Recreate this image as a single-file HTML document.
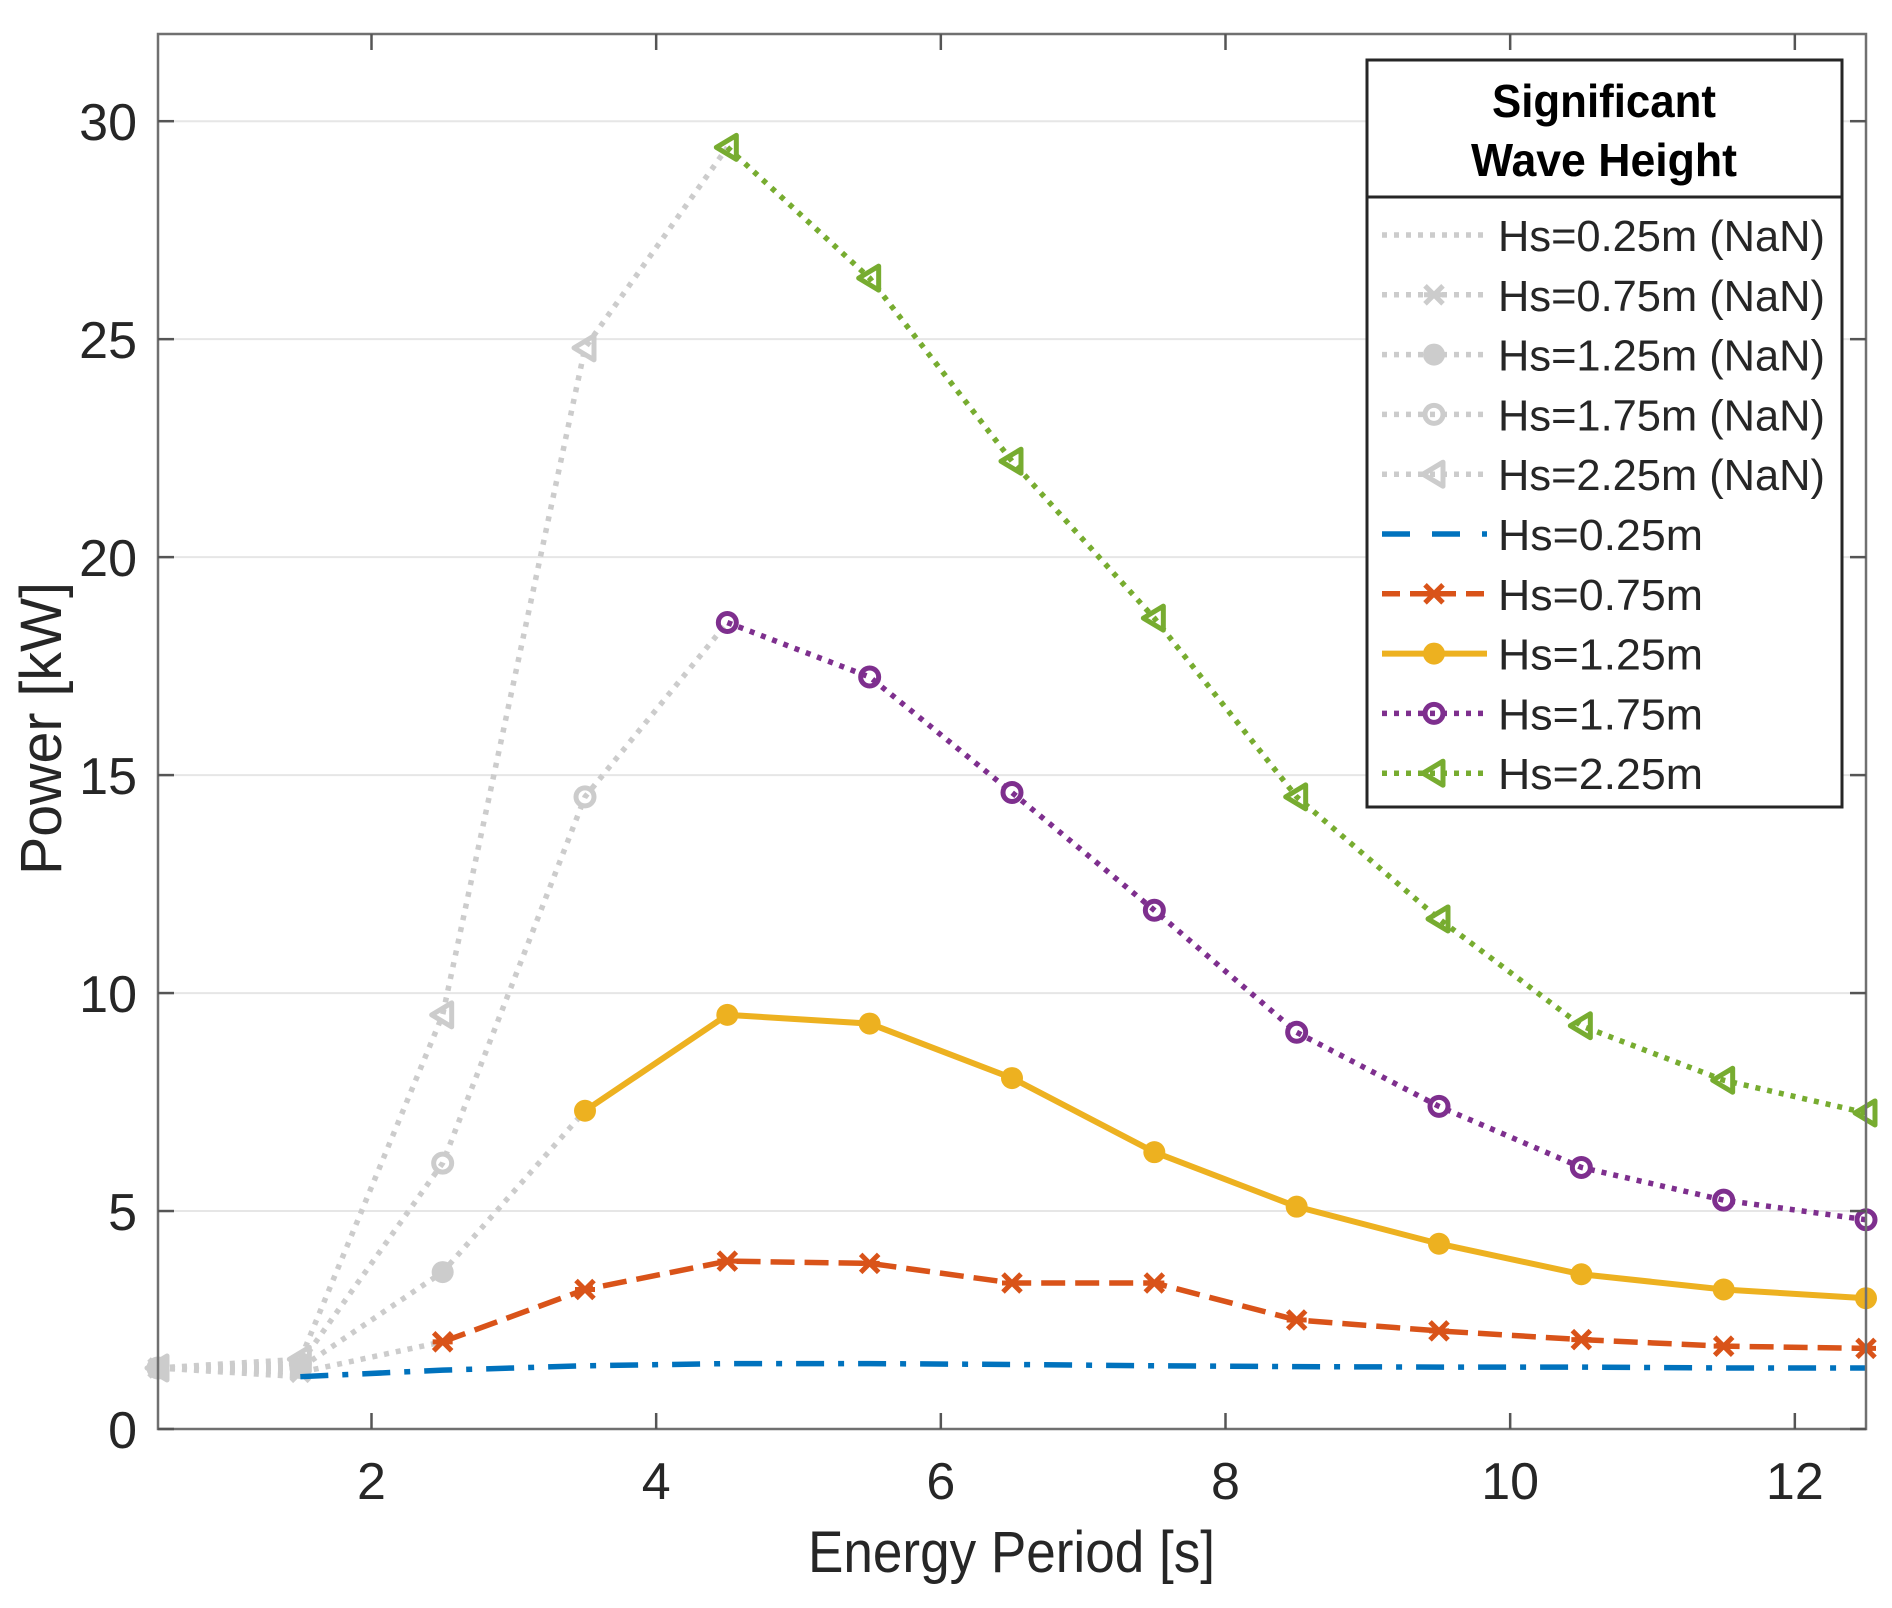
<!DOCTYPE html>
<html><head><meta charset="utf-8">
<style>html,body{margin:0;padding:0;background:#fff}svg{display:block}text{font-family:"Liberation Sans",sans-serif}</style>
</head><body>
<svg id="chart" xmlns="http://www.w3.org/2000/svg" width="1892" height="1608" viewBox="0 0 1892 1608">
<rect x="0" y="0" width="1892" height="1608" fill="#fff"/>
<g id="grid"></g>
<g id="nan"></g>
<g id="series"></g>
<g id="axes"></g>
<g id="legend"></g>
</svg>
<script>
const xCats = [0.5,1.5,2.5,3.5,4.5,5.5,6.5,7.5,8.5,9.5,10.5,11.5,12.5];
const xTicks = [2,4,6,8,10,12];
const yTicks = [0,5,10,15,20,25,30];
const firstValid = [1,2,3,4,4];
const hs025 = [1.4,1.2,1.35,1.45,1.5,1.5,1.48,1.45,1.43,1.42,1.42,1.4,1.4];
const hs075 = [1.4,1.3,2.0,3.2,3.85,3.8,3.35,3.35,2.5,2.25,2.05,1.9,1.85];
const hs125 = [1.4,1.4,3.6,7.3,9.5,9.3,8.05,6.35,5.1,4.25,3.55,3.2,3.0];
const hs175 = [1.4,1.5,6.1,14.5,18.5,17.25,14.6,11.9,9.1,7.4,6.0,5.25,4.8];
const hs225 = [1.4,1.6,9.5,24.8,29.4,26.4,22.2,18.6,14.5,11.7,9.25,8.0,7.25];
const labels = ["Hs=0.25m","Hs=0.75m","Hs=1.25m","Hs=1.75m","Hs=2.25m"];

const NS="http://www.w3.org/2000/svg";
const L=158,R=1866,T=34,B=1429;
const X0=0.5,X1=12.5,Y0=0,Y1=32;
const sx=v=>L+(v-X0)/(X1-X0)*(R-L);
const sy=v=>B-(v-Y0)/(Y1-Y0)*(B-T);
function mk(tag,attrs,parent){const e=document.createElementNS(NS,tag);for(const k in attrs)e.setAttribute(k,attrs[k]);parent.appendChild(e);return e;}
const grid=document.getElementById('grid'),nan=document.getElementById('nan'),ser=document.getElementById('series'),axes=document.getElementById('axes'),leg=document.getElementById('legend');

yTicks.forEach(t=>{if(t===0)return;const g=mk('line',{x1:L,x2:R,y1:sy(t),y2:sy(t),stroke:'#e6e6e6','stroke-width':2},grid);

});

const LW=5.5;
const styles=[
 {c:'#0072BD',dash:'28 14 6 14',m:'none'},
 {c:'#D95319',dash:'24 10',m:'x'},
 {c:'#EDB120',dash:'none',m:'dot'},
 {c:'#7E2F8E',dash:'5 7',m:'o'},
 {c:'#77AC30',dash:'5 7',m:'tri'}];
const allData=[hs025,hs075,hs125,hs175,hs225];

function marker(type,x,y,color,parent,name){
 let e;
 if(type==='x'){e=mk('path',{d:`M${x-9},${y-9}L${x+9},${y+9}M${x-9},${y+9}L${x+9},${y-9}M${x-10},${y}L${x+10},${y}`,stroke:color,'stroke-width':5,fill:'none'},parent);}
 else if(type==='dot'){e=mk('circle',{cx:x,cy:y,r:11,fill:color},parent);}
 else if(type==='o'){e=mk('circle',{cx:x,cy:y,r:9,fill:'none',stroke:color,'stroke-width':5},parent);}
 else if(type==='tri'){e=mk('path',{d:`M${x-11},${y}L${x+9},${y-12}L${x+9},${y+12}Z`,fill:'none',stroke:color,'stroke-width':5,'stroke-linejoin':'round'},parent);}
 else return;
 
 
}

allData.forEach((d,i)=>{
 const n=firstValid[i];
 const pts=[];for(let k=0;k<=n;k++)pts.push(sx(xCats[k])+','+sy(d[k]));
 const p=mk('polyline',{points:pts.join(' '),fill:'none',stroke:'#cccccc','stroke-width':LW,'stroke-dasharray':'5 7'},nan);
 
 
 const gm=['dot','x','dot','o','tri'][i];
 for(let k=0;k<n;k++){marker(gm,sx(xCats[k]),sy(d[k]),'#cccccc',nan,'nan-marker');}
});
allData.forEach((d,i)=>{
 const n=firstValid[i],s=styles[i];
 const pts=[];for(let k=n;k<xCats.length;k++)pts.push(sx(xCats[k])+','+sy(d[k]));
 const attrs={points:pts.join(' '),fill:'none',stroke:s.c,'stroke-width':i===2?6:LW};
 if(s.dash!=='none')attrs['stroke-dasharray']=s.dash;
 const p=mk('polyline',attrs,ser);
 
 
 for(let k=n;k<xCats.length;k++)marker(s.m,sx(xCats[k]),sy(d[k]),s.c,ser,'series-marker-'+i);
});

const box=mk('rect',{x:L,y:T,width:R-L,height:B-T,fill:'none',stroke:'#707070','stroke-width':2.5},axes);


xTicks.forEach(t=>{
 mk('line',{x1:sx(t),x2:sx(t),y1:B,y2:B-16,stroke:'#555','stroke-width':2.5},axes);
 mk('line',{x1:sx(t),x2:sx(t),y1:T,y2:T+16,stroke:'#555','stroke-width':2.5},axes);
 const tx=mk('text',{x:sx(t),y:1499,'font-size':52,'text-anchor':'middle',fill:'#262626'},axes);tx.textContent=t;
 
 
});
yTicks.forEach(t=>{
 mk('line',{x1:L,x2:L+16,y1:sy(t),y2:sy(t),stroke:'#555','stroke-width':2.5},axes);
 mk('line',{x1:R,x2:R-16,y1:sy(t),y2:sy(t),stroke:'#555','stroke-width':2.5},axes);
 const ty=mk('text',{x:137,y:sy(t)+19,'font-size':52,'text-anchor':'end',fill:'#262626'},axes);ty.textContent=t;
 
 
});
const xl=mk('text',{x:808,y:1572,'font-size':58,textLength:407,lengthAdjust:'spacingAndGlyphs',fill:'#262626'},axes);xl.textContent='Energy Period [s]';


const yl=mk('text',{x:0,y:0,'font-size':58,textLength:293,lengthAdjust:'spacingAndGlyphs',fill:'#262626',transform:'translate(61,875) rotate(-90)'},axes);yl.textContent='Power [kW]';



const lb=mk('rect',{x:1367,y:60,width:475,height:747,fill:'#fff',stroke:'#262626','stroke-width':3},leg);


mk('line',{x1:1367,x2:1842,y1:197,y2:197,stroke:'#262626','stroke-width':3},leg);
[['Significant',117,224],['Wave Height',176,266]].forEach(([t,y,w])=>{const e=mk('text',{x:1604-w/2,y:y,'font-size':46,'font-weight':'bold',textLength:w,lengthAdjust:'spacingAndGlyphs',fill:'#000'},leg);e.textContent=t;
 
 });
const rows=[];
labels.forEach((l,i)=>rows.push({t:l+' (NaN)',c:'#cccccc',dash:'5 7',m:['none','x','dot','o','tri'][i],w:327}));
labels.forEach((l,i)=>rows.push({t:l,c:styles[i].c,dash:styles[i].dash==='5 7'?'5 7':(i===0?'28 22':(i===1?'18 10':'none')),m:styles[i].m,w:205}));
rows.forEach((r,i)=>{
 const y=235+i*59.8;
 const g=mk('g',{},leg);
 
 
 const a={x1:1382,x2:1487,y1:y,y2:y,stroke:r.c,'stroke-width':i===7?6:LW};
 if(r.dash!=='none')a['stroke-dasharray']=r.dash;
 mk('line',a,g);
 marker(r.m,1434,y,r.c,g,'legend-marker');
 const t=mk('text',{x:1498,y:y+16,'font-size':44,textLength:r.w,lengthAdjust:'spacingAndGlyphs',fill:'#262626'},g);t.textContent=r.t;
});
</script>
</body></html>
